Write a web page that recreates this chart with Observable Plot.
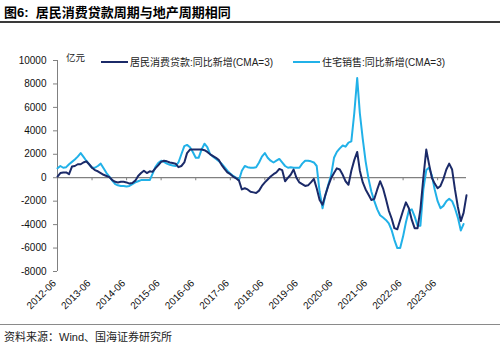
<!DOCTYPE html>
<html><head><meta charset="utf-8">
<script src="https://cdn.jsdelivr.net/npm/d3@7"></script>
<script src="https://cdn.jsdelivr.net/npm/@observablehq/plot@0.6"></script>
<style>
body{margin:0;width:500px;height:343px;overflow:hidden;background:#fff;position:relative;font-family:"Liberation Sans",Arial,"Noto Sans CJK SC",sans-serif;}
#title{position:absolute;left:4px;top:2px;font-size:13px;font-weight:bold;color:#000;white-space:nowrap;}
#tline{position:absolute;left:0;top:21px;width:500px;height:2px;background:#3a3a3a;}
#chart{position:absolute;left:0;top:25px;}
#unit{position:absolute;left:66px;top:50px;font-size:9.5px;color:#222;}
.sw{position:absolute;height:2.5px;}
.lt{position:absolute;font-size:10px;color:#222;white-space:nowrap;}
#bline{position:absolute;left:0;top:324px;width:500px;height:1px;background:#8a8a8a;}
#source{position:absolute;left:4px;top:328px;font-size:11px;color:#222;white-space:nowrap;}
</style>
</head><body>
<div id="title">图6:&nbsp; 居民消费贷款周期与地产周期相同</div>
<div id="tline"></div>
<div id="chart"></div>
<div id="unit">亿元</div>
<div id="legend"></div>
<div id="bline"></div>
<div id="source">资料来源：Wind、国海证券研究所</div>
<script>
const startMonth = "2012-06";
const seriesNames = ["居民消费贷款:同比新增(CMA=3)", "住宅销售:同比新增(CMA=3)"];
const seriesColors = ["#1b2a68", "#21b1e8"];
const tickLabels = ["2012-06","2013-06","2014-06","2015-06","2016-06","2017-06","2018-06","2019-06","2020-06","2021-06","2022-06","2023-06"];
const yTicks = [-8000,-6000,-4000,-2000,0,2000,4000,6000,8000,10000];

// 居民消费贷款:同比新增(CMA=3), monthly from 2012-06
const consumerLoans = [
 100,400,450,450,300,950,1000,1150,1150,1300,1400,1150,
 850,650,550,400,250,150,50,-200,-350,-400,-350,-350,
 -400,-500,-450,-250,150,400,600,400,550,500,800,1050,
 1350,1450,1400,1300,1250,1200,900,1000,1300,2100,2400,2400,
 2400,2400,2400,2350,2200,2000,1850,1700,1500,1100,750,450,
 300,100,-50,-250,-1000,-900,-1000,-1200,-1250,-1300,-1100,-700,
 -400,-150,100,300,450,750,650,-300,0,250,700,0,
 -400,-550,-700,-650,-400,-100,-900,-1900,-2300,-1500,-700,-50,
 400,800,700,250,-300,-600,600,1500,2200,600,-400,-1000,
 -1450,-1900,-1800,-1000,-300,-900,-1800,-2800,-3500,-4300,-4400,-3600,
 -2800,-2100,-2600,-3600,-4300,-4300,-2700,0,2400,1200,0,-500,
 -900,-700,-100,700,1200,700,-1000,-2500,-3700,-3000,-1500
];
// 住宅销售:同比新增(CMA=3), monthly from 2012-06
const housingSales = [
 800,1000,850,900,1150,1350,1550,1800,2100,1800,1450,1150,
 850,850,1000,1200,800,400,100,-250,-550,-650,-700,-700,
 -750,-700,-550,-400,-300,-200,-200,-200,-200,300,900,1250,
 1450,1350,1200,1100,1050,1000,1300,2000,2700,2800,2600,2200,
 1700,1700,2400,2900,2600,2000,1800,1600,1400,1200,900,600,
 350,150,0,-200,600,1000,900,850,850,900,1300,1800,
 2100,1700,1450,1300,1450,1600,1300,1000,850,900,850,850,
 850,1200,1450,1450,1400,1300,1000,-1200,-2600,-1500,-600,200,
 1700,2200,2500,2750,2650,3000,3100,5500,8500,5500,3300,1400,
 -100,-1200,-2000,-2700,-3200,-3400,-3600,-3900,-4500,-5300,-6000,-6000,
 -5000,-3800,-2800,-2700,-3300,-4100,-4100,-1000,650,850,200,-1000,
 -2000,-2600,-2400,-2000,-1800,-2000,-2600,-3400,-4500,-3950
];

const parseMonth = d3.utcParse("%Y-%m");
const fmtMonth = d3.utcFormat("%Y-%m");
const start = parseMonth(startMonth);
const monthAt = i => d3.utcMonth.offset(start, i);
const rows = [];
consumerLoans.forEach((v,i)=>rows.push({date:monthAt(i), v, s:seriesNames[0]}));
housingSales.forEach((v,i)=>rows.push({date:monthAt(i), v, s:seriesNames[1]}));
const tickDates = tickLabels.map(parseMonth);
const endDate = monthAt(consumerLoans.length - 1);
const font = '"Liberation Sans", Arial, "Noto Sans CJK SC", sans-serif';

const chart = Plot.plot({
  width: 500, height: 295,
  marginLeft: 57, marginRight: 34, marginTop: 35, marginBottom: 49,
  x: {type: "utc", domain: [start, endDate]},
  y: {domain: [-8000, 10000]},
  color: {domain: seriesNames, range: seriesColors},
  style: {fontFamily: font, fontSize: "10px", color: "#111", background: "transparent"},
  marks: [
    Plot.ruleY([0], {stroke: "#808080", strokeWidth: 1.3}),
    Plot.ruleX(tickDates, {y1: 0, y2: -260, stroke: "#808080"}),
    Plot.ruleX([start], {y1: -8000, y2: 10000, stroke: "#808080"}),
    Plot.axisY({ticks: yTicks, tickSize: 4, tickPadding: 7, tickFormat: d => String(d), stroke: "#808080", fontSize: 10, label: null}),
    Plot.axisX({ticks: tickDates, tickFormat: fmtMonth, tickRotate: -45, tickSize: 0, tickPadding: 10, dx: -3, fontSize: 10, label: null}),
    Plot.line(rows.filter(r => r.s === seriesNames[1]), {x: "date", y: "v", stroke: "s", strokeWidth: 2}),
    Plot.line(rows.filter(r => r.s === seriesNames[0]), {x: "date", y: "v", stroke: "s", strokeWidth: 2})
  ]
});
document.getElementById("chart").appendChild(chart);

const legend = document.getElementById("legend");
const legendPos = [{sw: 101, tx: 130}, {sw: 293, tx: 322}];
seriesNames.forEach((name, i) => {
  const sw = document.createElement("div");
  sw.className = "sw";
  sw.style.left = legendPos[i].sw + "px";
  sw.style.top = "60.5px";
  sw.style.width = "27px";
  sw.style.background = seriesColors[i];
  legend.appendChild(sw);
  const t = document.createElement("div");
  t.className = "lt";
  t.style.left = legendPos[i].tx + "px";
  t.style.top = "54px";
  t.textContent = name;
  legend.appendChild(t);
});
</script>
</body></html>
